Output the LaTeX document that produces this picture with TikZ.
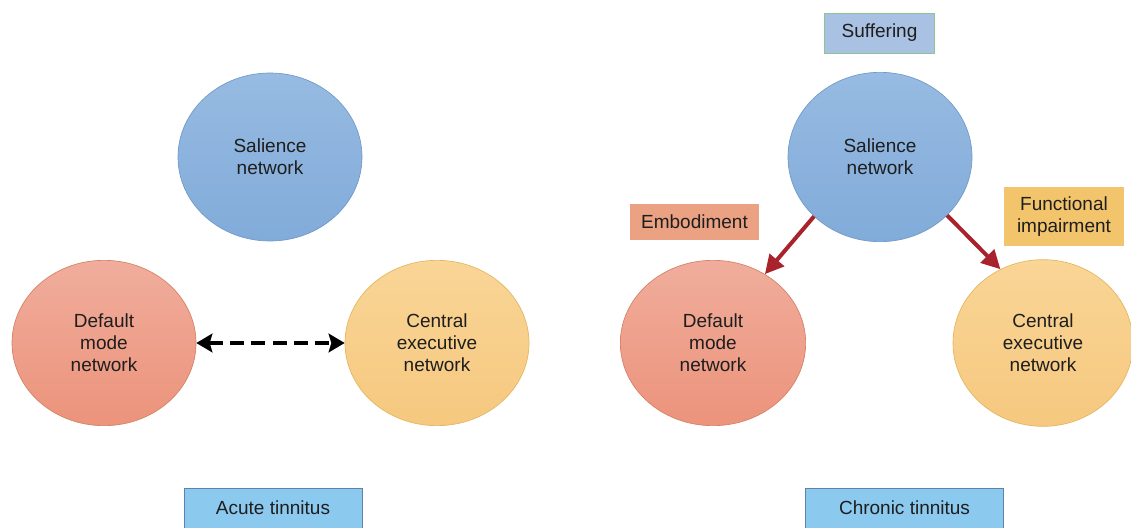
\documentclass[tikz,border=0pt]{standalone}
\usepackage{fontspec}
\setmainfont{Liberation Sans}
\usetikzlibrary{shapes.geometric,arrows.meta}
\definecolor{salT}{HTML}{97BBE2}
\definecolor{salB}{HTML}{81ABD9}
\definecolor{salE}{HTML}{7099C8}
\definecolor{dmnT}{HTML}{F0AD9C}
\definecolor{dmnB}{HTML}{EC937B}
\definecolor{dmnE}{HTML}{D68066}
\definecolor{cenT}{HTML}{F9D596}
\definecolor{cenB}{HTML}{F6C87F}
\definecolor{cenE}{HTML}{E3B65E}
\definecolor{sufF}{HTML}{A9C1E2}
\definecolor{sufE}{HTML}{8EC48E}
\definecolor{embF}{HTML}{EBA283}
\definecolor{funF}{HTML}{F2C46C}
\definecolor{bluF}{HTML}{8CC9EF}
\definecolor{bluE}{HTML}{5F82A8}
\definecolor{arrR}{HTML}{A8232B}
\definecolor{txt}{HTML}{1E1E1E}
\begin{document}
\begin{tikzpicture}[x=0.75pt,y=-0.75pt,
  every node/.style={font=\fontsize{14.25}{16.5}\selectfont, text=txt, align=center, inner sep=0pt},
  net/.style={ellipse, draw, line width=0.5pt},
  salnet/.style={net, draw=salE, top color=salT, bottom color=salB},
  dmnnet/.style={net, draw=dmnE, top color=dmnT, bottom color=dmnB},
  cennet/.style={net, draw=cenE, top color=cenT, bottom color=cenB},
  tag/.style={rectangle, line width=0.6pt},
  redarrow/.style={draw=arrR, line width=3pt, -{Triangle[length=14pt,width=14pt]}},
  dasharrow/.style={draw=black, line width=3.5pt, dash pattern=on 10.5pt off 5.5pt, {Stealth[length=12pt,width=14pt,inset=2pt]}-{Stealth[length=12pt,width=14pt,inset=2pt]}}
]
\useasboundingbox (0,0) rectangle (1131,528);

% ---- Acute (left) ----
\node[salnet, minimum width=138pt, minimum height=126pt] (salL) at (270,157) {Salience\\network};
\node[dmnnet, minimum width=138pt, minimum height=124pt] (dmnL) at (104,343) {Default\\mode\\network};
\node[cennet, minimum width=138pt, minimum height=124pt] (cenL) at (437,343) {Central\\executive\\network};
\draw[dasharrow] (dmnL.east) -- (cenL.west);
\node[tag, fill=bluF, draw=bluE, minimum width=133.5pt, minimum height=30pt] (acute) at (273,508) {Acute tinnitus};

% ---- Chronic (right) ----
\node[salnet, minimum width=138pt, minimum height=127pt] (salR) at (880,157) {Salience\\network};
\node[dmnnet, minimum width=139pt, minimum height=124pt] (dmnR) at (713,343) {Default\\mode\\network};
\node[cennet, minimum width=135pt, minimum height=125pt] (cenR) at (1043,343) {Central\\executive\\network};
\node[tag, fill=sufF, draw=sufE, minimum width=83pt, minimum height=30pt] (suf) at (879.5,33) {Suffering};
\node[tag, fill=embF, minimum width=97pt, minimum height=27pt] (emb) at (694.5,222) {Embodiment};
\node[tag, fill=funF, minimum width=90pt, minimum height=44pt] (fun) at (1064,216.5) {Functional\\impairment};
\node[tag, fill=bluF, draw=bluE, minimum width=148pt, minimum height=30pt] (chronic) at (904.5,508) {Chronic tinnitus};
\draw[redarrow] (salR.222) -- (dmnR.53);
\draw[redarrow] (salR.-41) -- (cenR.120);
\end{tikzpicture}
\end{document}
